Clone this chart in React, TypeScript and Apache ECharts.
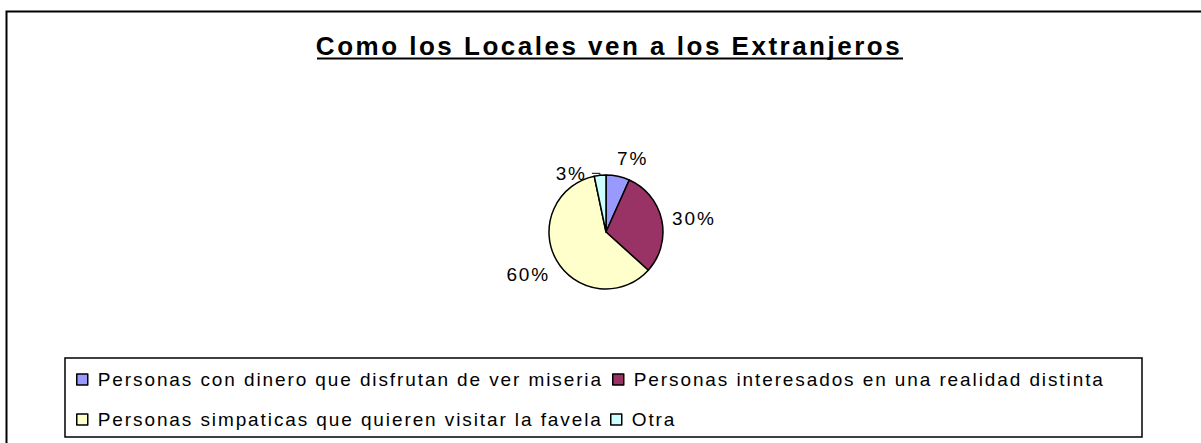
import React, { useEffect, useRef } from 'react';
import * as echarts from 'echarts';

const TITLE = 'Como los Locales ven a los Extranjeros';
const CATEGORIES = [
  'Personas con dinero que disfrutan de ver miseria',
  'Personas interesados en una realidad distinta',
  'Personas simpaticas que quieren visitar la favela',
  'Otra',
];
const VALUES = [6.7, 30, 60, 3.3];
const COLORS = ['#9999FF', '#993366', '#FFFFCC', '#CCFFFF'];
const LEGEND_ROWS = [
  [0, 1],
  [2, 3],
];

// styling / layout
const FONT = '"Liberation Sans", Arial, sans-serif';
const LABEL_DX = [-7.5, -2.6, 5.5, 0];
const LABEL_DY = [-10, 0, 10.6, 0];
const LEGEND_LEFT = [
  [76, 612],
  [76, 610],
];
const LEGEND_TOP = [370, 410];

export default function App() {
  const ref = useRef<HTMLDivElement>(null);

  useEffect(() => {
    if (!ref.current) return;
    const chart = echarts.init(ref.current, null, { renderer: 'svg' });

    const legends: any[] = [];
    LEGEND_ROWS.forEach((row, r) => {
      row.forEach((idx, c) => {
        legends.push({
          data: [CATEGORIES[idx]],
          left: LEGEND_LEFT[r][c],
          top: LEGEND_TOP[r],
          padding: 0,
          icon: 'rect',
          itemWidth: 11,
          itemHeight: 11,
          selectedMode: false,
          itemStyle: { borderColor: '#000', borderWidth: 1.5 },
          textStyle: { fontFamily: FONT, fontSize: 19, color: '#000', padding: [0, 0, 0, 5] },
        });
      });
    });

    const option: any = {
      animation: false,
      backgroundColor: '#fff',
      textStyle: { fontFamily: FONT },
      graphic: [
        {
          type: 'rect',
          shape: { x: 6.5, y: 11.5, width: 1400, height: 800 },
          style: { fill: 'none', stroke: '#000', lineWidth: 2 },
          silent: true,
        },
        {
          type: 'rect',
          shape: { x: 65, y: 358, width: 1077, height: 79 },
          style: { fill: 'none', stroke: '#000', lineWidth: 1.5 },
          silent: true,
        },
        {
          type: 'text',
          x: 609,
          y: 45.5,
          style: {
            text: TITLE,
            font: 'bold 26px ' + FONT,
            fill: '#000',
            textAlign: 'center',
            textVerticalAlign: 'middle',
          },
          silent: true,
        },
        {
          type: 'line',
          shape: { x1: 317, y1: 58.5, x2: 903, y2: 58.5 },
          style: { stroke: '#000', lineWidth: 2 },
          silent: true,
        },
      ],
      legend: legends,
      series: [
        {
          type: 'pie',
          center: [606, 232],
          radius: 57,
          startAngle: 90,
          clockwise: true,
          avoidLabelOverlap: false,
          silent: true,
          itemStyle: { borderColor: '#000', borderWidth: 1.5 },
          label: {
            show: true,
            position: 'outside',
            fontFamily: FONT,
            fontSize: 19,
            color: '#000',
            formatter: (p: any) => Math.round(p.percent) + '%',
          },
          labelLine: { show: false, length: 8, length2: 0 },
          labelLayout: (p: any) => ({ dx: LABEL_DX[p.dataIndex], dy: LABEL_DY[p.dataIndex] }),
          data: CATEGORIES.map((name, i) => ({
            name,
            value: VALUES[i],
            itemStyle: { color: COLORS[i] },
            ...(i === 3
              ? { labelLine: { show: true, length: 2, length2: 8, lineStyle: { color: '#000', width: 1 } } }
              : {}),
          })),
        },
      ],
    };

    chart.setOption(option);
    return () => chart.dispose();
  }, []);

  return (
    <>
      <style>{`
        #chart svg text { letter-spacing: 1.9px; }
        #chart svg text[style*="bold"] { letter-spacing: 2.5px; }
      `}</style>
      <div
        id="chart"
        ref={ref}
        style={{ position: 'fixed', left: 0, top: 0, width: 1201, height: 443, background: '#fff' }}
      />
    </>
  );
}
